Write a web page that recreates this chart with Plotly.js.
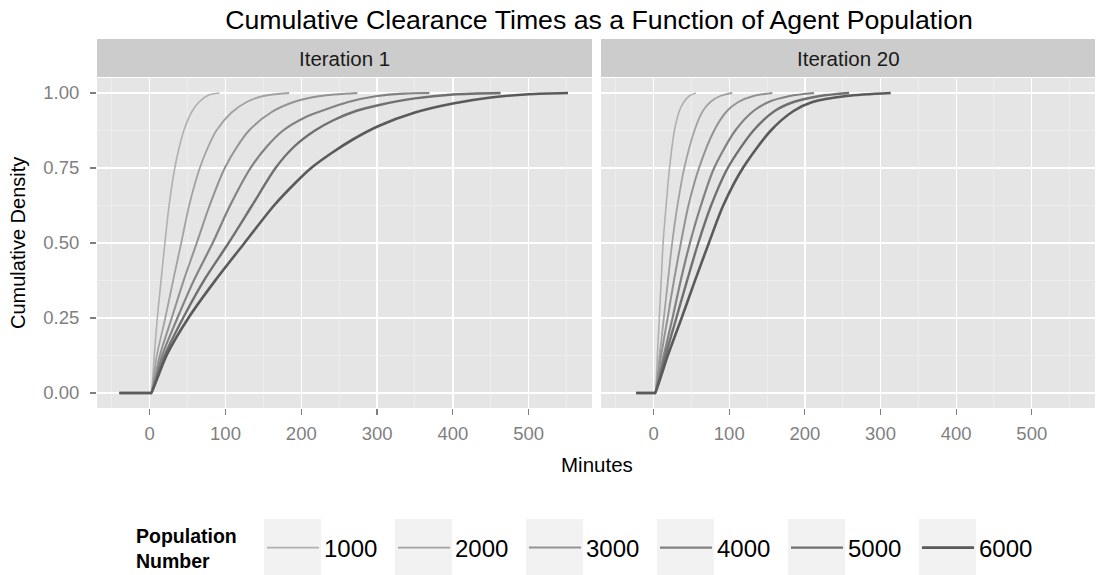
<!DOCTYPE html>
<html><head><meta charset="utf-8">
<script src="https://cdn.plot.ly/plotly-3.0.1.min.js"></script>
<style>html,body{margin:0;padding:0;background:#fff}#chart{width:1096px;height:575px}</style>
</head><body><div id="chart"></div>
<script>
// ---- data ----
const populations = ['1000', '2000', '3000', '4000', '5000', '6000'];
const panelNames = ['Iteration 1', 'Iteration 20'];

// Iteration 1 (minutes, cumulative density)
const it1_1000_x = [-40, 1.5, 2, 6, 10, 15, 20, 25.5, 33, 39, 45, 55, 65, 78, 92];
const it1_1000_y = [0, 0, 0, 0.127, 0.25, 0.377, 0.5, 0.625, 0.75, 0.82, 0.875, 0.935, 0.97, 0.993, 1];
const it1_2000_x = [-40, 1.5, 2, 9.5, 20.5, 31, 41.5, 52, 66, 77, 88, 108, 128, 150, 184];
const it1_2000_y = [0, 0, 0, 0.127, 0.25, 0.377, 0.5, 0.625, 0.75, 0.82, 0.875, 0.935, 0.97, 0.99, 1];
const it1_3000_x = [-40, 1.5, 2, 13.5, 29, 45, 62, 79, 99, 115, 131, 160, 190, 225, 274];
const it1_3000_y = [0, 0, 0, 0.127, 0.25, 0.377, 0.5, 0.625, 0.75, 0.82, 0.875, 0.935, 0.97, 0.99, 1];
const it1_4000_x = [-40, 1.5, 2, 16.7, 36.5, 58.5, 83, 106, 133, 154, 176, 206, 232, 262, 300, 335, 369];
const it1_4000_y = [0, 0, 0, 0.127, 0.25, 0.377, 0.5, 0.625, 0.75, 0.82, 0.875, 0.92, 0.945, 0.97, 0.99, 0.998, 1];
const it1_5000_x = [-40, 1.5, 2, 20, 44, 72, 104, 135, 166, 190, 218, 243, 272, 303, 350, 400, 463];
const it1_5000_y = [0, 0, 0, 0.127, 0.25, 0.377, 0.5, 0.625, 0.75, 0.82, 0.875, 0.91, 0.94, 0.96, 0.982, 0.995, 1];
const it1_6000_x = [-40, 1.5, 2, 22.5, 51, 87, 125, 164, 192, 213, 240, 268, 302, 350, 400, 450, 500, 552];
const it1_6000_y = [0, 0, 0, 0.127, 0.25, 0.377, 0.5, 0.625, 0.70, 0.75, 0.80, 0.845, 0.89, 0.935, 0.965, 0.985, 0.996, 1];

// Iteration 20 (minutes, cumulative density)
const it20_1000_x = [-23, 1.5, 2, 5, 7.5, 10, 12.5, 16.5, 21, 27.5, 34, 40, 47, 56];
const it20_2000_x = [-23, 1.5, 2, 8, 13.5, 19, 24.5, 31.5, 40.5, 54, 65, 75, 88, 104];
const it20_3000_x = [-23, 1.5, 2, 10, 18.5, 27, 36, 46, 60, 80, 97, 112, 132, 157];
const it20_4000_x = [-23, 1.5, 2, 13.5, 25, 36, 48, 62.5, 80, 108, 132, 152, 180, 212];
const it20_5000_x = [-23, 1.5, 2, 16, 30, 44.5, 59, 76, 98, 132, 160, 185, 220, 258.5];
const it20_6000_x = [-23, 1.5, 2, 19, 37, 55, 73, 92, 118, 155, 185, 210, 255, 313.5];
const it20_y = [0, 0, 0, 0.127, 0.25, 0.377, 0.5, 0.625, 0.75, 0.875, 0.94, 0.97, 0.99, 1];

const xTickVals = [0, 100, 200, 300, 400, 500];
const yTickVals = [0, 0.25, 0.5, 0.75, 1];
const yTickText = ['0.00', '0.25', '0.50', '0.75', '1.00'];

// ---- styling ----
const lineColors = ['#b0b0b0', '#a2a2a2', '#939393', '#828282', '#707070', '#5a5a5a'];
const lineWidths = [1.6, 1.8, 2.0, 2.2, 2.4, 2.6];

const it1X = [it1_1000_x, it1_2000_x, it1_3000_x, it1_4000_x, it1_5000_x, it1_6000_x];
const it1Y = [it1_1000_y, it1_2000_y, it1_3000_y, it1_4000_y, it1_5000_y, it1_6000_y];
const it20X = [it20_1000_x, it20_2000_x, it20_3000_x, it20_4000_x, it20_5000_x, it20_6000_x];

const traces = [];
populations.forEach((p, i) => {
  traces.push({x: it1X[i], y: it1Y[i], type: 'scatter', mode: 'lines', name: p, legendgroup: p,
    xaxis: 'x', yaxis: 'y', line: {color: lineColors[i], width: lineWidths[i], shape: 'spline', smoothing: 0.8}, showlegend: true});
});
populations.forEach((p, i) => {
  traces.push({x: it20X[i], y: it20_y, type: 'scatter', mode: 'lines', name: p, legendgroup: p,
    xaxis: 'x2', yaxis: 'y2', line: {color: lineColors[i], width: lineWidths[i], shape: 'spline', smoothing: 0.8}, showlegend: false});
});

const FONT = 'Liberation Sans, Arial, Helvetica, sans-serif';
const W = 1096, H = 575;
const px = v => v / W, py = v => (H - v) / H;

const xaxisBase = {
  range: [-69.6, 583.6], tickvals: xTickVals, ticktext: xTickVals.map(String),
  showgrid: true, gridcolor: '#ffffff', gridwidth: 1.3, zeroline: false,
  minor: {dtick: 50, tick0: 0, showgrid: true, gridcolor: '#f2f2f2', gridwidth: 0.6, ticks: ''},
  ticks: 'outside', ticklen: 6, tickcolor: '#7f7f7f', tickwidth: 1.2,
  tickfont: {family: FONT, size: 18.5, color: '#7f7f7f'}, ticklabelstandoff: 3,
  showline: false, fixedrange: true
};
const yaxisBase = {
  range: [-0.05, 1.05], tickvals: yTickVals, ticktext: yTickText,
  showgrid: true, gridcolor: '#ffffff', gridwidth: 1.3, zeroline: false,
  minor: {tickvals: [0.125, 0.375, 0.625, 0.875], showgrid: true, gridcolor: '#f2f2f2', gridwidth: 0.6, ticks: ''},
  ticks: 'outside', ticklen: 6, tickcolor: '#7f7f7f', tickwidth: 1.2,
  tickfont: {family: FONT, size: 18.5, color: '#7f7f7f'}, ticklabelstandoff: 7,
  showline: false, fixedrange: true, domain: [py(408), py(78)]
};

// light key backgrounds behind legend entries (layout decoration)
const keyBoxLeft = [264, 395, 526, 657, 788, 919];
const keyShapes = keyBoxLeft.map(l => ({type: 'rect', xref: 'paper', yref: 'paper', layer: 'below',
  x0: px(l), x1: px(l + 57), y0: py(575), y1: py(519), fillcolor: '#f2f2f2', line: {width: 0}}));

const layout = {
  width: W, height: H,
  margin: {l: 0, r: 0, t: 0, b: 0},
  paper_bgcolor: '#ffffff', plot_bgcolor: '#e5e5e5',
  font: {family: FONT, color: '#000'},
  title: {text: 'Cumulative Clearance Times as a Function of Agent Population',
    font: {family: FONT, size: 26.7, color: '#000'}, x: px(599), xanchor: 'center',
    y: py(20), yanchor: 'middle', xref: 'paper', yref: 'paper'},
  xaxis: Object.assign({}, xaxisBase, {domain: [px(97), px(592)], anchor: 'y'}),
  yaxis: Object.assign({}, yaxisBase, {anchor: 'x'}),
  xaxis2: Object.assign({}, xaxisBase, {domain: [px(601), px(1095)], anchor: 'y2'}),
  yaxis2: Object.assign({}, yaxisBase, {anchor: 'x2', showticklabels: false, ticks: ''}),
  shapes: [
    {type: 'rect', xref: 'x domain', yref: 'paper', x0: 0, x1: 1, y0: py(77), y1: py(39), fillcolor: '#cccccc', line: {width: 0}},
    {type: 'rect', xref: 'x2 domain', yref: 'paper', x0: 0, x1: 1, y0: py(77), y1: py(39), fillcolor: '#cccccc', line: {width: 0}}
  ].concat(keyShapes),
  annotations: [
    {text: panelNames[0], xref: 'x domain', yref: 'paper', x: 0.5, y: py(58), xanchor: 'center', yanchor: 'middle', showarrow: false, font: {family: FONT, size: 20.5, color: '#1a1a1a'}},
    {text: panelNames[1], xref: 'x2 domain', yref: 'paper', x: 0.5, y: py(58), xanchor: 'center', yanchor: 'middle', showarrow: false, font: {family: FONT, size: 20.5, color: '#1a1a1a'}},
    {text: 'Minutes', xref: 'paper', yref: 'paper', x: px(597), y: py(464), xanchor: 'center', yanchor: 'middle', showarrow: false, font: {family: FONT, size: 20.5, color: '#000'}},
    {text: 'Cumulative Density', xref: 'paper', yref: 'paper', x: px(18), y: py(243), xanchor: 'center', yanchor: 'middle', textangle: -90, showarrow: false, font: {family: FONT, size: 20, color: '#000'}},
    {text: '<b>Population</b><br><b>Number</b>', xref: 'paper', yref: 'paper', x: px(134), y: py(548), xanchor: 'left', yanchor: 'middle', align: 'left', showarrow: false, font: {family: FONT, size: 19.5, color: '#000'}}
  ],
  showlegend: true,
  legend: {orientation: 'h', x: px(262), xanchor: 'left', y: py(548), yanchor: 'middle',
    font: {family: FONT, size: 24, color: '#000'}, bgcolor: 'rgba(0,0,0,0)',
    itemwidth: 52, entrywidth: 64, entrywidthmode: 'pixels', traceorder: 'normal'}
};

Plotly.newPlot('chart', traces, layout, {displayModeBar: false, staticPlot: true});
</script>
</body></html>
